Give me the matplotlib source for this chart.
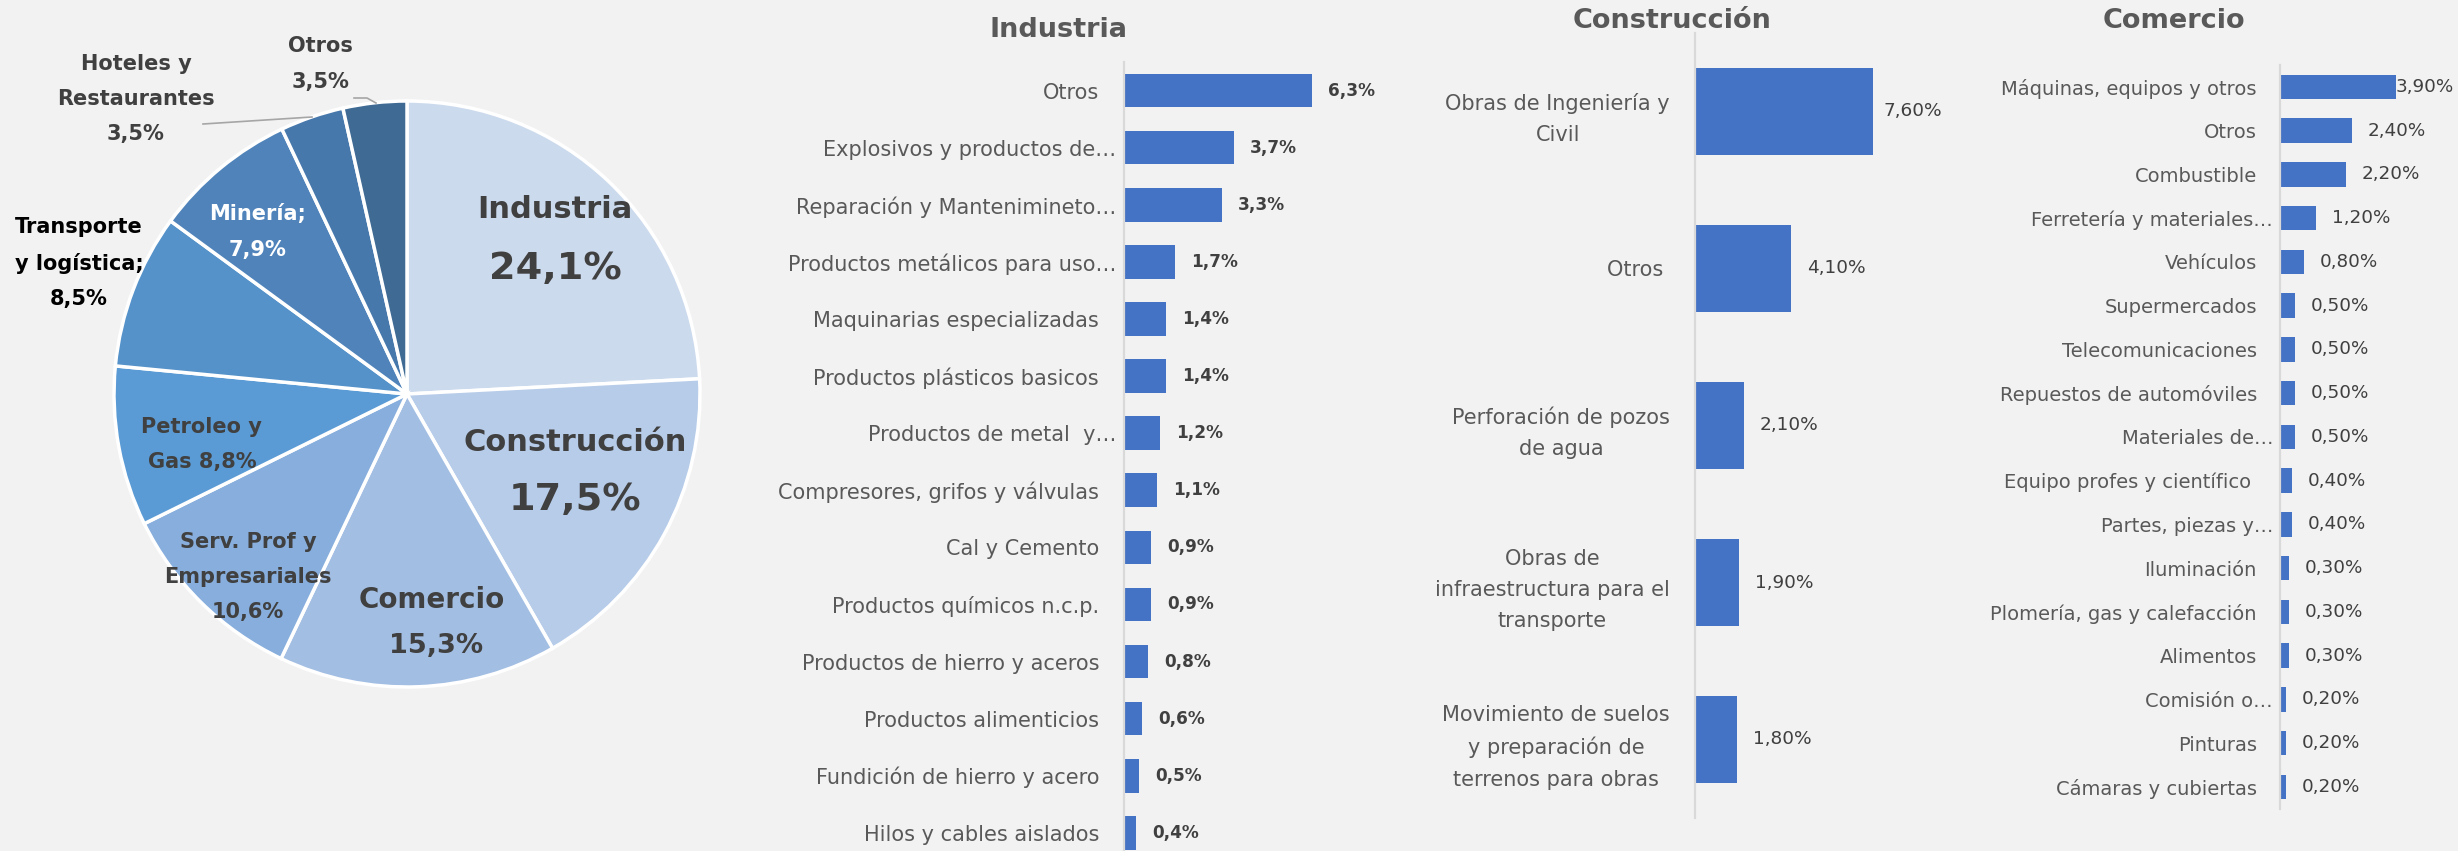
import matplotlib.pyplot as plt
import numpy as np

W, H = 2458, 851
DPI = 100

# pie: share of each sector
sector_names = ["Industria", "Construcción", "Comercio", "Serv. Prof y\nEmpresariales",
                "Petroleo y\nGas", "Transporte\ny logística;", "Minería;",
                "Hoteles y\nRestaurantes", "Otros"]
sector_shares = [24.1, 17.5, 15.3, 10.6, 8.8, 8.5, 7.9, 3.5, 3.5]

# bar panels
ind_labels = ["Otros", "Explosivos y productos de…", "Reparación y Mantenimineto…",
              "Productos metálicos para uso…", "Maquinarias especializadas",
              "Productos plásticos basicos", "Productos de metal  y…",
              "Compresores, grifos y válvulas", "Cal y Cemento", "Productos químicos n.c.p.",
              "Productos de hierro y aceros", "Productos alimenticios",
              "Fundición de hierro y acero", "Hilos y cables aislados"]
ind_values = [6.3, 3.7, 3.3, 1.7, 1.4, 1.4, 1.2, 1.1, 0.9, 0.9, 0.8, 0.6, 0.5, 0.4]

con_labels = ["Obras de Ingeniería y\nCivil", "Otros ", "Perforación de pozos\nde agua",
              "Obras de\ninfraestructura para el\ntransporte",
              "Movimiento de suelos\ny preparación de\nterrenos para obras"]
con_values = [7.6, 4.1, 2.1, 1.9, 1.8]

com_labels = ["Máquinas, equipos y otros", "Otros", "Combustible", "Ferretería y materiales…",
              "Vehículos", "Supermercados", "Telecomunicaciones", "Repuestos de automóviles",
              "Materiales de…", "Equipo profes y científico ", "Partes, piezas y…",
              "Iluminación", "Plomería, gas y calefacción", "Alimentos", "Comisión o…",
              "Pinturas", "Cámaras y cubiertas"]
com_values = [3.9, 2.4, 2.2, 1.2, 0.8, 0.5, 0.5, 0.5, 0.5, 0.4, 0.4, 0.3, 0.3, 0.3, 0.2, 0.2, 0.2]

BG = "#F2F2F2"
BAR = "#4472C4"
DARK = "#404040"
GREY = "#595959"
plt.rcParams['font.family'] = ['DejaVu Sans']

fig = plt.figure(figsize=(W / DPI, H / DPI), dpi=DPI, facecolor=BG)


def fmt(v, dec):
    return f"{v:.{dec}f}".replace(".", ",") + "%"


# ---------------- pie ----------------
pie_colors = ["#CCDAED", "#B7CCE9", "#A3BEE3", "#87AEDC", "#5B9BD5",
              "#5592C9", "#4F83BA", "#4778AC", "#3E6A94"]
cx, cy, R = 407, H - 394, 293
axp = fig.add_axes([0, 0, 720 / W, 1])
axp.pie(sector_shares, colors=pie_colors, startangle=90, counterclock=False,
        center=(cx, cy), radius=R,
        wedgeprops=dict(edgecolor="white", linewidth=2.5))
axp.set_xlim(0, 720)
axp.set_ylim(0, H)
axp.set_aspect("auto")
axp.axis("off")

# big labels: name and percentage as two texts (offsets in radius units)
big = [(0, (0.505, 0.631), (0.505, 0.427), 22, 27.5),
       (1, (0.573, -0.164), (0.573, -0.362), 22, 27.5),
       (2, (0.085, -0.703), (0.099, -0.860), 20, 19.5)]
for i, (nx, ny), (px, py), s1, s2 in big:
    axp.text(cx + nx * R, cy + ny * R, sector_names[i], ha="center", va="center",
             fontsize=s1, fontweight="bold", color=DARK)
    axp.text(cx + px * R, cy + py * R, fmt(sector_shares[i], 1), ha="center", va="center",
             fontsize=s2, fontweight="bold", color=DARK)

small = [(3, (-0.543, -0.625), "\n", DARK),
         (4, (-0.700, -0.171), " ", DARK),
         (5, (-1.119, 0.447), "\n", "black"),
         (6, (-0.509, 0.553), "\n", "white"),
         (7, (-0.925, 1.007), "\n", DARK),
         (8, (-0.294, 1.126), "\n", DARK)]
for i, (dx, dy), sep, col in small:
    axp.text(cx + dx * R, cy + dy * R, sector_names[i] + sep + fmt(sector_shares[i], 1),
             ha="center", va="center", fontsize=15, fontweight="bold", color=col,
             linespacing=1.95, multialignment="center")

# leader lines for the outside labels
axp.plot([203, 312], [H - 124, H - 117], color="#A6A6A6", lw=1.2)
axp.plot([354, 367, 376], [H - 98, H - 98, H - 103], color="#A6A6A6", lw=1.2)


# ---------------- bar panels ----------------
def panel(labels, values, left, top, step, xmax, px_per, height, dec, bold,
          fs, vfs, pad_norm, pad_trunc, title, tx, ty, lsp=1.2):
    n = len(values)
    width = xmax * px_per
    ax = fig.add_axes([left / W, 1 - (top + n * step) / H, width / W, n * step / H])
    ax.set_facecolor("none")
    y = np.arange(n)
    ax.barh(y, values, height=height, color=BAR)
    ax.set_xlim(0, xmax)
    ax.set_ylim(n - 0.5, -0.5)
    ax.set_xticks([])
    ax.set_yticks(y)
    ax.set_yticklabels(labels, fontsize=fs, color=GREY, linespacing=lsp,
                       multialignment="center")
    ax.tick_params(axis="y", length=0)
    for t, lab in zip(ax.yaxis.get_major_ticks(), labels):
        t.set_pad(pad_trunc if lab.endswith("…") else pad_norm)
    for s in ["top", "right", "bottom"]:
        ax.spines[s].set_visible(False)
    ax.spines["left"].set_color("#D9D9D9")
    ax.spines["left"].set_linewidth(1.6)
    texts = []
    for yi, v in zip(y, values):
        texts.append(ax.annotate(fmt(v, dec), (v, yi), xytext=(11.5, 0),
                                 textcoords="offset points", ha="left", va="center",
                                 fontsize=vfs, color=DARK,
                                 fontweight="bold" if bold else "normal",
                                 annotation_clip=False))
    fig.text(tx / W, 1 - ty / H, title, ha="center", va="center", fontsize=19.5,
             fontweight="bold", color=GREY)
    return texts


all_texts = []
all_texts.append((panel(ind_labels, ind_values, 1124, 62, 57.1, 8, 29.8, 0.59, 1, True,
                        15, 12.2, 18, 5.8, "Industria", 1059, 30), W))
all_texts.append((panel(con_labels, con_values, 1695, 33, 157, 8, 23.4, 0.55, 2, False,
                        15, 13.3, 18, 5.8, "Construcción", 1672, 21, lsp=1.7), 1942))
all_texts.append((panel(com_labels, com_values, 2280, 65, 43.75, 5, 29.8, 0.56, 2, False,
                        14, 13.2, 16.6, 5, "Comercio", 2174, 21), 2454))

# keep value labels inside the chart area, like the spreadsheet does
renderer = fig.canvas.get_renderer()
for texts, lim in all_texts:
    for t in texts:
        bb = t.get_window_extent(renderer)
        if bb.x1 > lim:
            ox, oy = t.xyann
            t.xyann = (ox - (bb.x1 - lim) * 72 / DPI, oy)

fig.savefig("out.png", dpi=DPI, facecolor=BG)
